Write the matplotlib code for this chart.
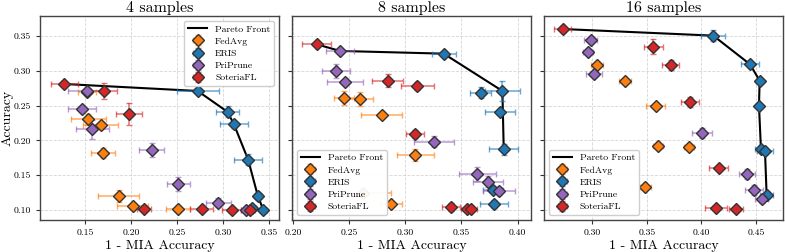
import matplotlib
matplotlib.use("Agg")
import matplotlib.pyplot as plt

plt.rcParams['font.family'] = 'serif'
plt.rcParams['font.serif'] = ['cmr10', 'DejaVu Serif']
plt.rcParams['mathtext.fontset'] = 'cm'
plt.rcParams['axes.unicode_minus'] = False
plt.rcParams['axes.formatter.use_mathtext'] = True

titles = ["4 samples", "8 samples", "16 samples"]
methods = ["FedAvg", "ERIS", "PriPrune", "SoteriaFL"]
colors = {"FedAvg": "#ff7f0e", "ERIS": "#1f77b4", "PriPrune": "#9467bd", "SoteriaFL": "#d62728"}

# ---- 4 samples ----
p4_fedavg_x = [0.152, 0.1536, 0.167, 0.1696, 0.1866, 0.2018, 0.2514]
p4_fedavg_y = [0.269, 0.2303, 0.222, 0.182, 0.120, 0.1057, 0.101]
p4_fedavg_xerr = [0.010, 0.019, 0.019, 0.0127, 0.022, 0.017, 0.013]
p4_fedavg_yerr = [0.005, 0.008, 0.005, 0.007, 0.009, 0.004, 0.004]
p4_eris_x = [0.2725, 0.305, 0.312, 0.3275, 0.338, 0.332, 0.344]
p4_eris_y = [0.271, 0.241, 0.223, 0.172, 0.120, 0.1033, 0.100]
p4_eris_xerr = [0.023, 0.013, 0.015, 0.015, 0.004, 0.004, 0.004]
p4_eris_yerr = [0.003, 0.008, 0.005, 0.008, 0.006, 0.004, 0.002]
p4_priprune_x = [0.1525, 0.147, 0.158, 0.2225, 0.2514, 0.295, 0.325]
p4_priprune_y = [0.271, 0.2447, 0.216, 0.186, 0.137, 0.1105, 0.100]
p4_priprune_xerr = [0.021, 0.015, 0.018, 0.0134, 0.0127, 0.0134, 0.005]
p4_priprune_yerr = [0.004, 0.004, 0.0137, 0.010, 0.010, 0.006, 0.003]
p4_soteria_x = [0.1275, 0.1707, 0.1975, 0.214, 0.2768, 0.3095, 0.329]
p4_soteria_y = [0.281, 0.2706, 0.238, 0.102, 0.101, 0.100, 0.100]
p4_soteria_xerr = [0.0145, 0.0145, 0.014, 0.008, 0.0127, 0.010, 0.006]
p4_soteria_yerr = [0.002, 0.0115, 0.016, 0.003, 0.002, 0.003, 0.002]
p4_front = [("SoteriaFL", 0), ("ERIS", 0), ("ERIS", 1), ("ERIS", 2), ("ERIS", 3), ("ERIS", 4), ("ERIS", 6)]

# ---- 8 samples ----
p8_fedavg_x = [0.2455, 0.2595, 0.2789, 0.3089, 0.262, 0.2872]
p8_fedavg_y = [0.2605, 0.259, 0.2365, 0.179, 0.125, 0.108]
p8_fedavg_xerr = [0.009, 0.0116, 0.018, 0.0163, 0.025, 0.010]
p8_fedavg_yerr = [0.010, 0.010, 0.003, 0.008, 0.003, 0.003]
p8_eris_x = [0.3342, 0.3865, 0.3672, 0.3842, 0.3877, 0.378, 0.3793]
p8_eris_y = [0.3246, 0.271, 0.2686, 0.2408, 0.187, 0.129, 0.1086]
p8_eris_xerr = [0.0107, 0.0158, 0.0094, 0.0134, 0.013, 0.009, 0.0125]
p8_eris_yerr = [0.004, 0.0144, 0.008, 0.004, 0.008, 0.005, 0.006]
p8_priprune_x = [0.2417, 0.238, 0.246, 0.3258, 0.3642, 0.3737, 0.3833]
p8_priprune_y = [0.3285, 0.300, 0.2844, 0.198, 0.1517, 0.1407, 0.1277]
p8_priprune_xerr = [0.0128, 0.0126, 0.016, 0.018, 0.0167, 0.0134, 0.0143]
p8_priprune_yerr = [0.003, 0.010, 0.003, 0.008, 0.010, 0.008, 0.006]
p8_soteria_x = [0.2212, 0.2842, 0.3107, 0.3089, 0.3407, 0.3547, 0.3583]
p8_soteria_y = [0.338, 0.2858, 0.278, 0.2088, 0.1047, 0.101, 0.101]
p8_soteria_xerr = [0.013, 0.0135, 0.0145, 0.008, 0.008, 0.005, 0.006]
p8_soteria_yerr = [0.003, 0.0096, 0.006, 0.006, 0.006, 0.003, 0.003]
p8_front = [("SoteriaFL", 0), ("PriPrune", 0), ("ERIS", 0), ("ERIS", 1), ("ERIS", 4)]

# ---- 16 samples ----
p16_fedavg_x = [0.3046, 0.3302, 0.358, 0.3605, 0.3886, 0.3486]
p16_fedavg_y = [0.3084, 0.285, 0.2499, 0.1924, 0.191, 0.1335]
p16_fedavg_xerr = [0.0056, 0.0057, 0.0087, 0.0046, 0.0046, 0.005]
p16_fedavg_yerr = [0.003, 0.003, 0.003, 0.003, 0.003, 0.003]
p16_eris_x = [0.4108, 0.4445, 0.4533, 0.4527, 0.4545, 0.4582, 0.4597]
p16_eris_y = [0.3505, 0.3093, 0.2858, 0.2499, 0.1877, 0.1848, 0.1216]
p16_eris_xerr = [0.011, 0.0081, 0.003, 0.003, 0.005, 0.0076, 0.006]
p16_eris_yerr = [0.0084, 0.004, 0.003, 0.003, 0.004, 0.004, 0.004]
p16_priprune_x = [0.2985, 0.2963, 0.3016, 0.4008, 0.442, 0.4481, 0.4552]
p16_priprune_y = [0.3443, 0.3275, 0.2954, 0.2102, 0.1513, 0.1287, 0.1158]
p16_priprune_xerr = [0.0063, 0.0046, 0.0075, 0.009, 0.0072, 0.008, 0.006]
p16_priprune_yerr = [0.003, 0.003, 0.003, 0.007, 0.007, 0.007, 0.006]
p16_soteria_x = [0.2729, 0.3559, 0.3718, 0.3895, 0.4158, 0.4133, 0.4319]
p16_soteria_y = [0.360, 0.3347, 0.3084, 0.2556, 0.1608, 0.1033, 0.101]
p16_soteria_xerr = [0.008, 0.0087, 0.0079, 0.0081, 0.0087, 0.0104, 0.0064]
p16_soteria_yerr = [0.004, 0.0108, 0.007, 0.007, 0.003, 0.003, 0.003]
p16_front = [("SoteriaFL", 0), ("ERIS", 0), ("ERIS", 1), ("ERIS", 2), ("ERIS", 3),
             ("ERIS", 4), ("ERIS", 5), ("ERIS", 6)]

panels = [
    {"FedAvg": (p4_fedavg_x, p4_fedavg_y, p4_fedavg_xerr, p4_fedavg_yerr),
     "ERIS": (p4_eris_x, p4_eris_y, p4_eris_xerr, p4_eris_yerr),
     "PriPrune": (p4_priprune_x, p4_priprune_y, p4_priprune_xerr, p4_priprune_yerr),
     "SoteriaFL": (p4_soteria_x, p4_soteria_y, p4_soteria_xerr, p4_soteria_yerr)},
    {"FedAvg": (p8_fedavg_x, p8_fedavg_y, p8_fedavg_xerr, p8_fedavg_yerr),
     "ERIS": (p8_eris_x, p8_eris_y, p8_eris_xerr, p8_eris_yerr),
     "PriPrune": (p8_priprune_x, p8_priprune_y, p8_priprune_xerr, p8_priprune_yerr),
     "SoteriaFL": (p8_soteria_x, p8_soteria_y, p8_soteria_xerr, p8_soteria_yerr)},
    {"FedAvg": (p16_fedavg_x, p16_fedavg_y, p16_fedavg_xerr, p16_fedavg_yerr),
     "ERIS": (p16_eris_x, p16_eris_y, p16_eris_xerr, p16_eris_yerr),
     "PriPrune": (p16_priprune_x, p16_priprune_y, p16_priprune_xerr, p16_priprune_yerr),
     "SoteriaFL": (p16_soteria_x, p16_soteria_y, p16_soteria_xerr, p16_soteria_yerr)},
]
fronts = [p4_front, p8_front, p16_front]
xlims = [(0.101, 0.361), (0.199, 0.412), (0.2558, 0.4747)]
ylim = (0.0856, 0.3787)
xticks = [[0.15, 0.20, 0.25, 0.30, 0.35], [0.20, 0.25, 0.30, 0.35, 0.40], [0.30, 0.35, 0.40, 0.45]]
yticks = [0.10, 0.15, 0.20, 0.25, 0.30, 0.35]
legend_locs = ["upper right", "lower left", "lower left"]

fig = plt.figure(figsize=(7.85, 2.52), dpi=100)
lefts = [40, 292, 544]
W, H = 785, 252
axes = []
for i in range(3):
    ax = fig.add_axes([lefts[i] / W, 1 - 220 / H, 239 / W, 204 / H])
    axes.append(ax)

for i, ax in enumerate(axes):
    data = panels[i]
    fx = [data[m][0][k] for m, k in fronts[i]]
    fy = [data[m][1][k] for m, k in fronts[i]]
    ax.plot(fx, fy, color="black", lw=1.5, label="Pareto Front", zorder=2)
    for m in methods:
        x, y, xe, ye = data[m]
        cont = ax.errorbar(x, y, xerr=xe, yerr=ye, fmt="D", color=colors[m],
                           markerfacecolor=colors[m], markeredgecolor="#333333",
                           markeredgewidth=1.0, markersize=6.3, ecolor=colors[m],
                           elinewidth=1.1, capsize=2.5, capthick=1.0,
                           label=m, zorder=3)
        for cl in cont[1]:
            cl.set_alpha(0.65)
        for bl in cont[2]:
            bl.set_alpha(0.65)
    ax.set_xlim(*xlims[i])
    ax.set_ylim(*ylim)
    ax.set_xticks(xticks[i])
    ax.set_yticks(yticks)
    ax.xaxis.set_major_formatter(matplotlib.ticker.FormatStrFormatter('%.2f'))
    ax.yaxis.set_major_formatter(matplotlib.ticker.FormatStrFormatter('%.2f'))
    ax.grid(True, linestyle="--", color="#cccccc", linewidth=0.6, alpha=0.8)
    ax.set_axisbelow(True)
    ax.tick_params(labelsize=7, length=3, width=0.8, colors="#333333", labelcolor="black")
    for s in ax.spines.values():
        s.set_color("#444444")
        s.set_linewidth(1.0)
    ax.set_title(titles[i], fontsize=11.5, pad=3)
    ax.set_xlabel("1 - MIA Accuracy", fontsize=10, labelpad=2)
    if i == 0:
        ax.set_ylabel("Accuracy", fontsize=10)
        ax.yaxis.set_label_coords(-0.11, 0.5)
    else:
        ax.tick_params(labelleft=False)
    ax.legend(loc=legend_locs[i], fontsize=7, framealpha=0.95, edgecolor="#cccccc",
              borderpad=0.4, labelspacing=0.35, handlelength=2.0, handletextpad=0.8)

fig.savefig("out.png", dpi=100)
